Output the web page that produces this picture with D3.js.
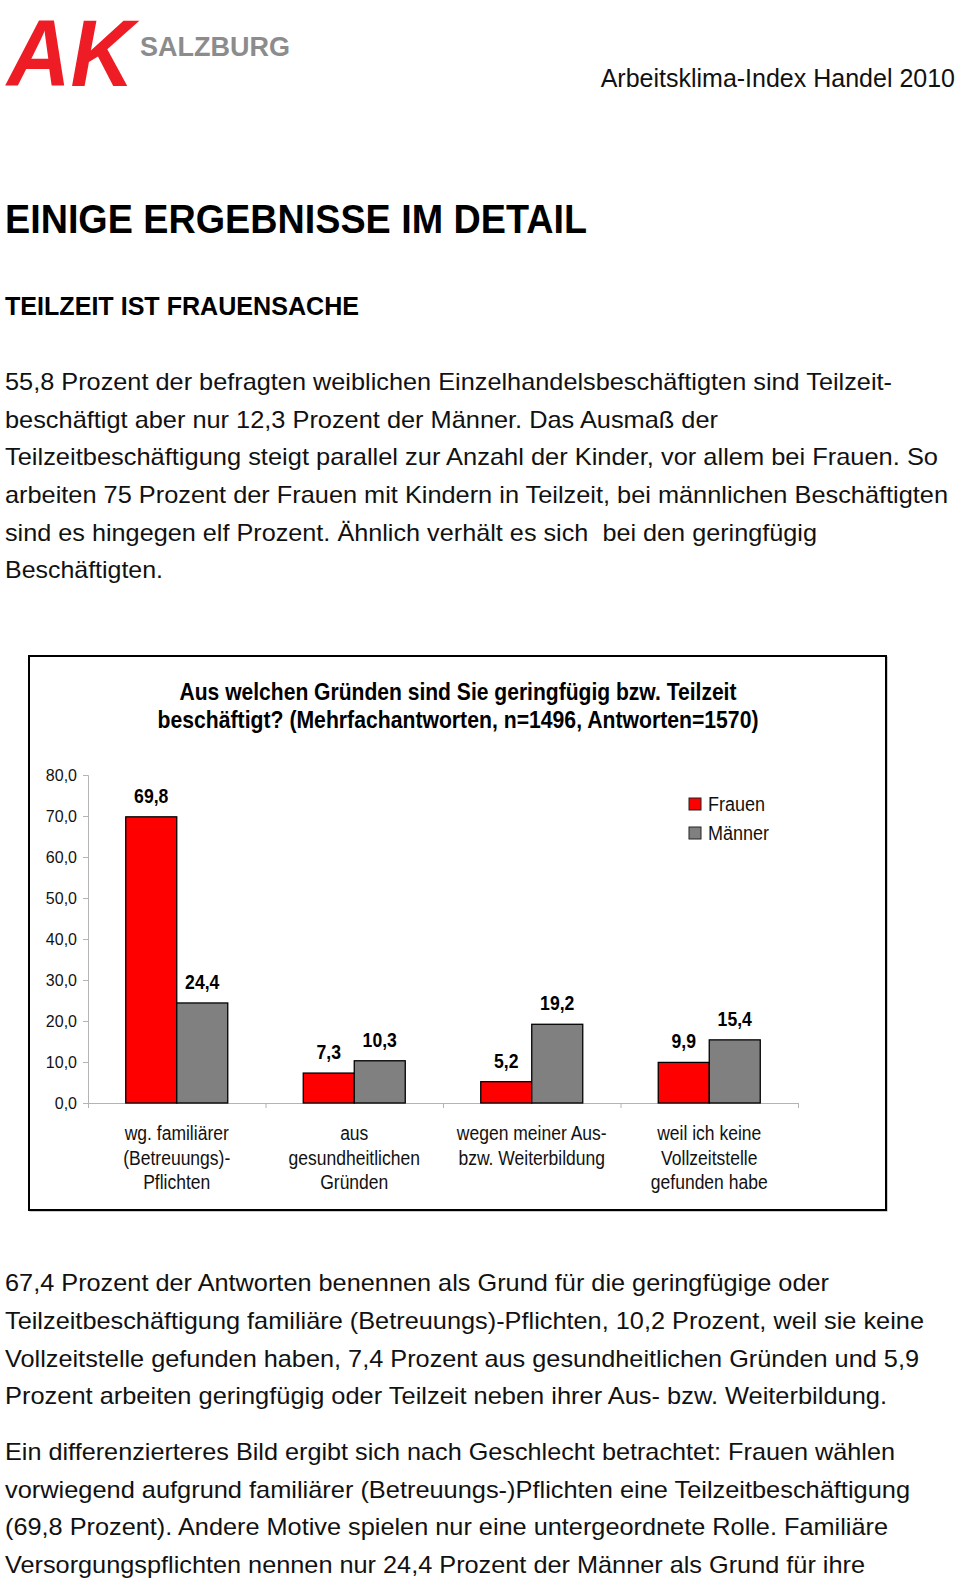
<!DOCTYPE html>
<html>
<head>
<meta charset="utf-8">
<script src="https://cdn.jsdelivr.net/npm/d3@7"></script>
<style>
  html, body { margin: 0; padding: 0; background: #fff; }
  svg { display: block; font-family: "Liberation Sans", Arial, Helvetica, sans-serif; }
  text { white-space: pre; }
</style>
</head>
<body>
<svg id="page" width="960" height="1579"></svg>
<script>
// ---------- DATA ----------
const categories = [
  "wg. familiärer\n(Betreuungs)-\nPflichten",
  "aus\ngesundheitlichen\nGründen",
  "wegen meiner Aus-\nbzw. Weiterbildung",
  "weil ich keine\nVollzeitstelle\ngefunden habe"
];
const seriesNames = ["Frauen", "Männer"];
const frauen = [69.8, 7.3, 5.2, 9.9];
const maenner = [24.4, 10.3, 19.2, 15.4];
const yTicks = [0, 10, 20, 30, 40, 50, 60, 70, 80];
const chartTitle = [
  "Aus welchen Gründen sind Sie geringfügig bzw. Teilzeit",
  "beschäftigt? (Mehrfachantworten, n=1496, Antworten=1570)"
];
const introLines = [
  "55,8 Prozent der befragten weiblichen Einzelhandelsbeschäftigten sind Teilzeit-",
  "beschäftigt aber nur 12,3 Prozent der Männer. Das Ausmaß der",
  "Teilzeitbeschäftigung steigt parallel zur Anzahl der Kinder, vor allem bei Frauen. So",
  "arbeiten 75 Prozent der Frauen mit Kindern in Teilzeit, bei männlichen Beschäftigten",
  "sind es hingegen elf Prozent. Ähnlich verhält es sich  bei den geringfügig",
  "Beschäftigten."
];
const outroLines = [
  "67,4 Prozent der Antworten benennen als Grund für die geringfügige oder",
  "Teilzeitbeschäftigung familiäre (Betreuungs)-Pflichten, 10,2 Prozent, weil sie keine",
  "Vollzeitstelle gefunden haben, 7,4 Prozent aus gesundheitlichen Gründen und 5,9",
  "Prozent arbeiten geringfügig oder Teilzeit neben ihrer Aus- bzw. Weiterbildung.",
  "Ein differenzierteres Bild ergibt sich nach Geschlecht betrachtet: Frauen wählen",
  "vorwiegend aufgrund familiärer (Betreuungs-)Pflichten eine Teilzeitbeschäftigung",
  "(69,8 Prozent). Andere Motive spielen nur eine untergeordnete Rolle. Familiäre",
  "Versorgungspflichten nennen nur 24,4 Prozent der Männer als Grund für ihre"
];
const introWidths = [887, 713, 933, 943, 812, 158];
const outroWidths = [824, 919, 914, 882, 890, 905, 883, 860];

// ---------- HELPERS ----------
const svg = d3.select("#page");
function fitWidth(sel, w) {
  sel.attr("textLength", w).attr("lengthAdjust", "spacingAndGlyphs");
}
function condense(sel, f) {
  sel.each(function () {
    const w = this.getComputedTextLength();
    d3.select(this).attr("textLength", w * f).attr("lengthAdjust", "spacingAndGlyphs");
  });
}

// ---------- HEADER ----------
svg.append("text").attr("transform", "translate(7,86) scale(1,1.08)")
  .attr("font-size", 88).attr("font-weight", "bold").attr("font-style", "italic")
  .attr("fill", "#ee1c25").text("AK");
svg.append("text").attr("x", 140).attr("y", 56)
  .attr("font-size", 27).attr("font-weight", "bold")
  .attr("fill", "#8c8c8c").text("SALZBURG");
svg.append("text").attr("x", 955).attr("y", 87).attr("text-anchor", "end")
  .attr("font-size", 25).attr("fill", "#111").text("Arbeitsklima-Index Handel 2010");

svg.append("text").attr("x", 5).attr("y", 233)
  .attr("font-size", 41).attr("font-weight", "bold").attr("fill", "#000")
  .text("EINIGE ERGEBNISSE IM DETAIL").call(fitWidth, 582);
svg.append("text").attr("x", 5).attr("y", 315)
  .attr("font-size", 26).attr("font-weight", "bold").attr("fill", "#000")
  .text("TEILZEIT IST FRAUENSACHE").call(fitWidth, 354);

const introBase = [390, 427.5, 465, 503, 540.5, 578];
introLines.forEach((t, i) => {
  svg.append("text").attr("x", 5).attr("y", introBase[i])
    .attr("font-size", 24).attr("fill", "#111").text(t).call(fitWidth, introWidths[i]);
});
const outroBase = [1291, 1329, 1367, 1404, 1460, 1497.5, 1535, 1572.5];
outroLines.forEach((t, i) => {
  svg.append("text").attr("x", 5).attr("y", outroBase[i])
    .attr("font-size", 24).attr("fill", "#111").text(t).call(fitWidth, outroWidths[i]);
});

// ---------- CHART ----------
const frame = { x: 29, y: 656, w: 857, h: 554 };
svg.append("rect").attr("x", frame.x + 1).attr("y", frame.y + 1)
  .attr("width", frame.w).attr("height", frame.h)
  .attr("fill", "none").attr("stroke", "#999").attr("stroke-width", 1);
svg.append("rect").attr("x", frame.x).attr("y", frame.y)
  .attr("width", frame.w).attr("height", frame.h)
  .attr("fill", "#fff").attr("stroke", "#000").attr("stroke-width", 2);

// title
chartTitle.forEach((t, i) => {
  svg.append("text").attr("x", 458).attr("y", 700 + i * 28).attr("text-anchor", "middle")
    .attr("font-size", 24).attr("font-weight", "bold").attr("fill", "#000")
    .text(t).call(fitWidth, i === 0 ? 557 : 601);
});

const plot = { left: 88, right: 798, top: 775, bottom: 1103 };
const y = d3.scaleLinear().domain([0, 80]).range([plot.bottom, plot.top]);
const x0 = d3.scaleBand().domain(categories).range([plot.left, plot.right])
  .paddingInner(0).paddingOuter(0);
const x1 = d3.scaleBand().domain(seriesNames).range([0, x0.bandwidth()])
  .paddingInner(0).paddingOuter(0.74);
const colors = d3.scaleOrdinal().domain(seriesNames).range(["#ff0000", "#808080"]);

const g = svg.append("g");

// y axis
const yAxis = g.append("g").attr("transform", `translate(${plot.left},0)`)
  .call(d3.axisLeft(y).tickValues(yTicks).tickSize(5).tickPadding(6)
    .tickFormat(d => d3.format(".1f")(d).replace(".", ",")));
yAxis.select(".domain").attr("stroke", "#b4b4b4");
yAxis.selectAll(".tick line").attr("stroke", "#b4b4b4");
yAxis.selectAll(".tick text").attr("font-size", 16).attr("fill", "#111")
  .attr("font-family", "Liberation Sans, Arial, sans-serif");

// x axis line + category ticks at band boundaries
const xBounds = categories.map(c => x0(c)).concat([plot.right]);
g.append("line").attr("x1", plot.left).attr("x2", plot.right)
  .attr("y1", plot.bottom + 0.5).attr("y2", plot.bottom + 0.5).attr("stroke", "#b4b4b4");
g.selectAll(".xtick").data(xBounds).join("line").attr("class", "xtick")
  .attr("x1", d => d + 0.5).attr("x2", d => d + 0.5)
  .attr("y1", plot.bottom).attr("y2", plot.bottom + 5).attr("stroke", "#b4b4b4");

// bars
const rows = categories.map((c, i) => ({ cat: c, values: [
  { s: "Frauen", v: frauen[i] }, { s: "Männer", v: maenner[i] } ] }));
const grp = g.selectAll(".grp").data(rows).join("g").attr("class", "grp")
  .attr("transform", d => `translate(${x0(d.cat)},0)`);
grp.selectAll("rect").data(d => d.values).join("rect")
  .attr("x", d => x1(d.s)).attr("y", d => y(d.v))
  .attr("width", x1.bandwidth()).attr("height", d => y(0) - y(d.v))
  .attr("fill", d => colors(d.s)).attr("stroke", "#000").attr("stroke-width", 1.3);
grp.selectAll(".val").data(d => d.values).join("text").attr("class", "val")
  .attr("x", d => x1(d.s) + x1.bandwidth() / 2).attr("y", d => y(d.v) - 14)
  .attr("text-anchor", "middle").attr("font-size", 20).attr("font-weight", "bold")
  .attr("fill", "#000").text(d => d3.format(".1f")(d.v).replace(".", ","))
  .call(condense, 0.88);

// category labels
categories.forEach(c => {
  c.split("\n").forEach((line, j) => {
    svg.append("text").attr("x", x0(c) + x0.bandwidth() / 2).attr("y", 1140 + j * 24.5)
      .attr("text-anchor", "middle").attr("font-size", 20).attr("fill", "#111")
      .text(line).call(condense, 0.875);
  });
});

// legend
const leg = svg.append("g");
seriesNames.forEach((s, i) => {
  leg.append("rect").attr("x", 689).attr("y", 798 + i * 29).attr("width", 12).attr("height", 12)
    .attr("fill", colors(s)).attr("stroke", "#222").attr("stroke-width", 1);
  leg.append("text").attr("x", 708).attr("y", 811 + i * 29)
    .attr("font-size", 20).attr("fill", "#111").text(s).call(condense, 0.9);
});
</script>
</body>
</html>
